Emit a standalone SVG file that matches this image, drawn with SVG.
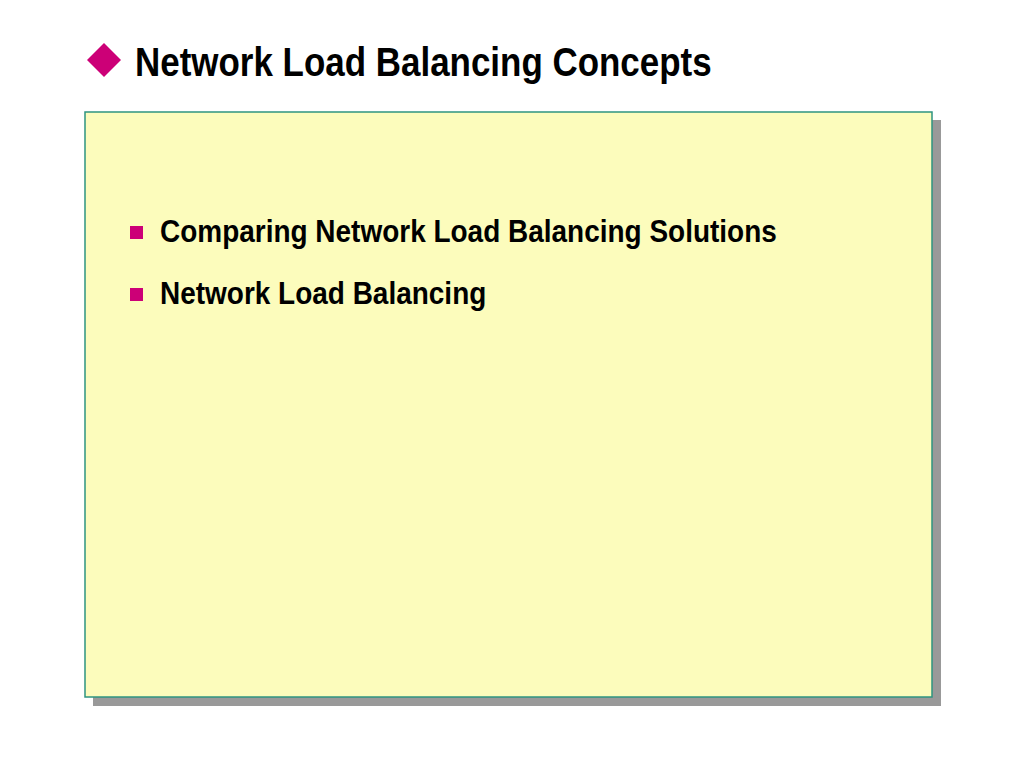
<svg xmlns="http://www.w3.org/2000/svg" width="1024" height="768" viewBox="0 0 1024 768">
<style>
.t{font-family:"Liberation Sans Narrow","Arial Narrow","Liberation Sans",sans-serif;font-weight:bold;fill:#000}
.b{fill:#CC0077}
</style>
<rect width="1024" height="768" fill="#fff"/>
<g id="title">
<polygon class="b" points="104,43 121,60 104,77 87,60"/>
<text class="t" transform="translate(135,76) scale(0.874,1)" font-size="40">Network Load Balancing Concepts</text>
</g>
<g id="panel">
<rect x="93" y="120" width="848" height="586" fill="#999"/>
<rect x="85" y="112" width="847" height="585" fill="#FCFCBC" stroke="#2E9480" stroke-width="1.5"/>
</g>
<g id="item1">
<rect class="b" x="130" y="226" width="13" height="13"/>
<text class="t" transform="translate(160,242) scale(0.874,1)" font-size="32">Comparing Network Load Balancing Solutions</text>
</g>
<g id="item2">
<rect class="b" x="130" y="288" width="13" height="13"/>
<text class="t" transform="translate(160,304) scale(0.874,1)" font-size="32">Network Load Balancing</text>
</g>
</svg>
